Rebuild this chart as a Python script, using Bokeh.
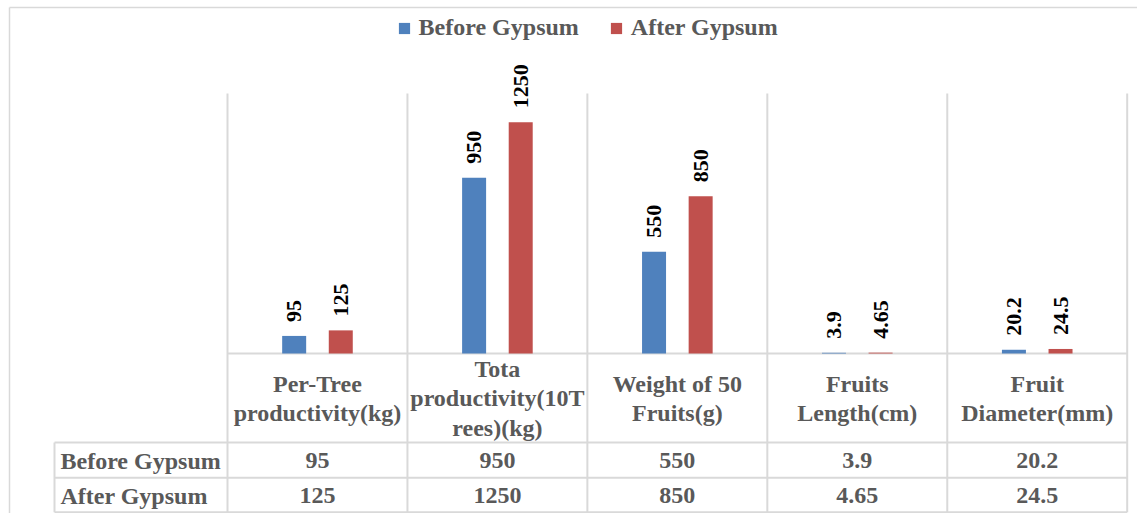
import math
from bokeh.plotting import figure
from bokeh.models import Range1d, Legend, LegendItem, ColumnDataSource
from bokeh.core.properties import value
from bokeh.embed import file_html
from bokeh.resources import INLINE

# ---- data ----
categories = ["Per-Tree\nproductivity(kg)",
              "Tota\nproductivity(10T\nrees)(kg)",
              "Weight of 50\nFruits(g)",
              "Fruits\nLength(cm)",
              "Fruit\nDiameter(mm)"]
series_names = ["Before Gypsum", "After Gypsum"]
before = [95, 950, 550, 3.9, 20.2]
after = [125, 1250, 850, 4.65, 24.5]
colors = ["#4F81BD", "#C0504D"]

# ---- layout helpers (picture pixels -> data) ----
W, H = 1137, 513
COL0, COLW = 227.0, 179.94
BASE, K = 353.0, 0.185


def X(px):
    return (px - COL0) / COLW


def Y(py):
    return (BASE - py) / K


def fmt(v):
    return "%g" % v


FONT = value("Liberation Serif")
GRAY = "#595959"
GRID = "#d9d9d9"

p = figure(width=W, height=H, output_backend="svg", toolbar_location=None,
           x_range=Range1d(X(0), X(W)), y_range=Range1d(Y(H), Y(0)),
           x_axis_type=None, y_axis_type=None, min_border=0)
p.outline_line_color = None
p.xgrid.visible = False
p.ygrid.visible = False
p.background_fill_color = "white"
p.border_fill_color = "white"

n = len(categories)
centers = [i + 0.5 for i in range(n)]
off = 0.1295
bw = 24.0 / COLW
BOT = 511.8

# outer border (left and top)
p.segment(x0=[X(9), X(9)], y0=[Y(7), Y(7)], x1=[X(9), X(W)], y1=[Y(H), Y(7)],
          line_color=GRID, line_width=1.5)

# vertical category gridlines through plot and table
p.segment(x0=list(range(n + 1)), y0=[Y(93)] * (n + 1), x1=list(range(n + 1)),
          y1=[Y(BOT)] * (n + 1), line_color=GRID, line_width=2)
# horizontal table lines
p.segment(x0=[0, X(54), X(54), X(54)], y0=[Y(353), Y(442), Y(477.3), Y(BOT)],
          x1=[n, n, n, n], y1=[Y(353), Y(442), Y(477.3), Y(BOT)],
          line_color=GRID, line_width=2)
p.segment(x0=[X(54)], y0=[Y(442)], x1=[X(54)], y1=[Y(BOT)], line_color=GRID, line_width=2)

renderers = []
for k, (vals, col) in enumerate(zip([before, after], colors)):
    xs = [c + (off if k else -off) for c in centers]
    src = ColumnDataSource(dict(x=xs, top=vals, lab=[fmt(v) for v in vals]))
    r = p.vbar(x="x", top="top", bottom=0, width=bw, source=src,
               fill_color=col, line_color=None)
    renderers.append(r)
    p.text(x="x", y="top", text="lab", source=src, angle=math.pi / 2,
           text_align="left", text_baseline="middle", y_offset=-14,
           text_font=FONT, text_font_style="bold", text_font_size="22px",
           text_color="black")

# table header
p.text(x=centers, y=[Y(398)] * n, text=categories, text_align="center",
       text_baseline="middle", text_line_height=1.12, text_font=FONT,
       text_font_style="bold", text_font_size="24px", text_color=GRAY)
# table rows
for k, (vals, yy) in enumerate(zip([before, after], [460, 495])):
    p.text(x=[X(60)], y=[Y(yy)], text=[series_names[k]], text_align="left",
           text_baseline="middle", text_font=FONT, text_font_style="bold",
           text_font_size="24px", text_color=GRAY)
    p.text(x=centers, y=[Y(yy)] * n, text=[fmt(v) for v in vals], text_align="center",
           text_baseline="middle", text_font=FONT, text_font_style="bold",
           text_font_size="24px", text_color=GRAY)

legend = Legend(items=[LegendItem(label=series_names[i], renderers=[renderers[i]]) for i in range(2)],
                orientation="horizontal", location=(396.6, 472), glyph_width=14, glyph_height=14,
                label_standoff=8, spacing=30, padding=0, margin=0, border_line_color=None,
                background_fill_alpha=0, label_text_font="Liberation Serif",
                label_text_font_style="bold", label_text_font_size="24px",
                label_text_color=GRAY)
p.add_layout(legend)

open("out.html", "w").write(file_html(p, INLINE))
